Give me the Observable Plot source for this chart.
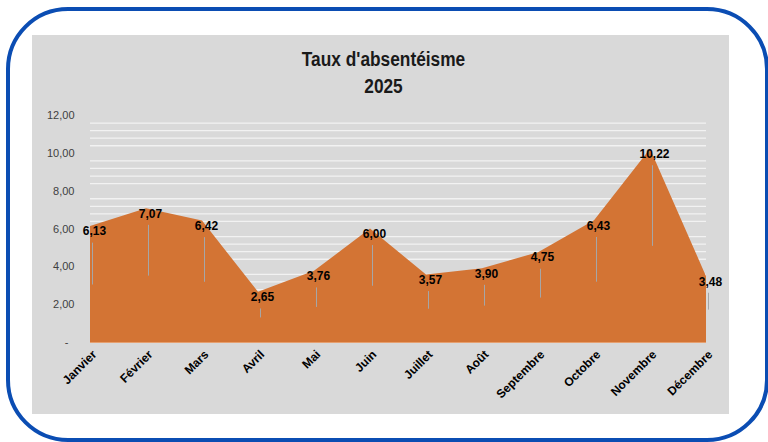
<!DOCTYPE html>
<html>
<head>
<meta charset="utf-8">
<script src="https://cdn.jsdelivr.net/npm/d3@7"></script>
<script src="https://cdn.jsdelivr.net/npm/@observablehq/plot@0.6"></script>
<style>
  html, body { margin: 0; padding: 0; background: #ffffff; }
  #page { position: relative; width: 768px; height: 442px; overflow: hidden; }
  #frame { position: absolute; left: 6px; top: 7px; width: 755px; height: 427px;
           border: 4px solid #0b4db3; border-radius: 62px; }
  #panel { position: absolute; left: 32px; top: 35px; width: 697px; height: 379px; background: #d9d9d9; }
  #title { position: absolute; left: 3px; top: 11px; width: 697px; text-align: center;
           font-family: "Liberation Sans", Arial, sans-serif;
           font-weight: bold; font-size: 20px; line-height: 26.5px; color: #1a1a1a;
           transform: scaleX(0.865); transform-origin: 50% 50%; }
  #chart { position: absolute; left: 0; top: 65px; }
</style>
</head>
<body>
<div id="page">
  <div id="frame"></div>
  <div id="panel">
    <div id="title">Taux d'absentéisme<br>2025</div>
    <div id="chart"></div>
  </div>
</div>
<script>
const months = ["Janvier","Février","Mars","Avril","Mai","Juin","Juillet","Août","Septembre","Octobre","Novembre","Décembre"];
const values = [6.13, 7.07, 6.42, 2.65, 3.76, 6.00, 3.57, 3.90, 4.75, 6.43, 10.22, 3.48];
const yTicks = [0, 2, 4, 6, 8, 10, 12];

const rows = months.map((m, i) => ({month: m, value: values[i]}));
const fmt = v => v.toFixed(2).replace(".", ",");
// minor gridlines every 0.4, major positions left blank (as in the reference)
const minorTicks = d3.range(1, 30).map(k => k * 0.4).filter(v => Math.abs(v / 2 - Math.round(v / 2)) > 1e-6);

const chart = Plot.plot({
  width: 697,
  height: 314,
  marginLeft: 58,
  marginRight: 23,
  marginTop: 15,
  marginBottom: 72,
  style: {background: "transparent", fontFamily: "'Liberation Sans', Arial, sans-serif", overflow: "visible"},
  x: {type: "point", domain: months, padding: 0, label: null},
  y: {domain: [0, 12], label: null},
  marks: [
    Plot.ruleY(minorTicks, {stroke: "#f2f2f2", strokeWidth: 1.3}),
    Plot.areaY(rows, {x: "month", y: "value", fill: "#d37434"}),
    Plot.ruleY([0], {stroke: "#e6a070", strokeWidth: 1}),
    Plot.link(rows, {x1: "month", x2: "month", y1: d => d.value / 2, y2: d => d.value - 0.85,
                     stroke: "#a6a6a6", strokeWidth: 1, dx: 2}),
    Plot.text(rows, {x: "month", y: "value", text: d => fmt(d.value), dx: 4, dy: 5,
                     fontWeight: "bold", fontSize: 12, fill: "#000000"}),
    Plot.axisY({ticks: yTicks, tickFormat: d => d === 0 ? "-\u00a0\u00a0" : fmt(d), tickSize: 0,
                tickPadding: 16, fontSize: 11, color: "#404040", label: null}),
    Plot.axisX({tickSize: 0, tickRotate: -45, tickPadding: 10, dx: 4, fontWeight: "bold",
                fontSize: 12, color: "#000000", label: null})
  ]
});
document.getElementById("chart").appendChild(chart);
</script>
</body>
</html>
